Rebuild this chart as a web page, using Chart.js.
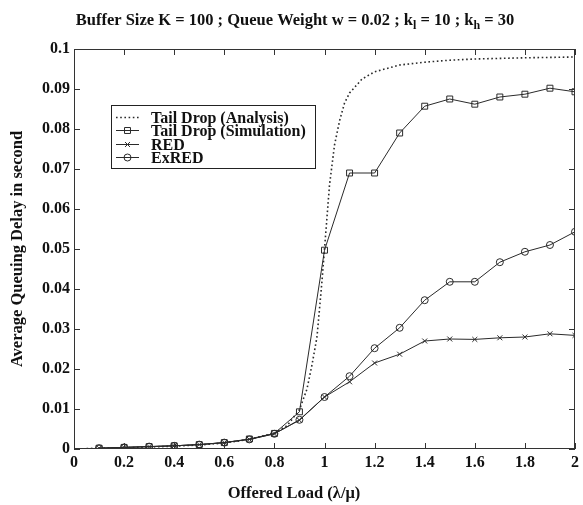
<!DOCTYPE html>
<html>
<head>
<meta charset="utf-8">
<script src="https://cdn.jsdelivr.net/npm/chart.js@4"></script>
<style>
  html, body { margin: 0; padding: 0; background: #fff; }
  #wrap { width: 583px; height: 505px; }
</style>
</head>
<body>
<div id="wrap"><canvas id="grafica" width="583" height="505"></canvas></div>
<script>
// datos
var cargaSim = [0.1, 0.2, 0.3, 0.4, 0.5, 0.6, 0.7, 0.8, 0.9, 1.0, 1.1, 1.2, 1.3, 1.4, 1.5, 1.6, 1.7, 1.8, 1.9, 2.0];
var tailDropSim = [0.0002, 0.0004, 0.0006, 0.0008, 0.0011, 0.0016, 0.0025, 0.0039, 0.0093, 0.0497, 0.069, 0.069, 0.079, 0.0857, 0.0875, 0.0862, 0.088, 0.0887, 0.0902, 0.0893];
var red = [0.0002, 0.0004, 0.0006, 0.0008, 0.0011, 0.0016, 0.0024, 0.0038, 0.0072, 0.013, 0.0168, 0.0215, 0.0237, 0.027, 0.0275, 0.0274, 0.0278, 0.028, 0.0288, 0.0284];
var exred = [0.0002, 0.0004, 0.0006, 0.0008, 0.0011, 0.0016, 0.0024, 0.0038, 0.0073, 0.013, 0.0182, 0.0252, 0.0303, 0.0372, 0.0418, 0.0418, 0.0467, 0.0493, 0.051, 0.0543];

var cargaAna = [0, 0.1, 0.2, 0.3, 0.4, 0.5, 0.6, 0.7, 0.8, 0.85, 0.9, 0.93, 0.95, 0.97, 0.99, 1.0, 1.02, 1.04, 1.06, 1.08, 1.1, 1.15, 1.2, 1.3, 1.4, 1.5, 1.6, 1.8, 2.0];
var tailDropAna = [0, 0.0002, 0.0003, 0.0005, 0.0007, 0.001, 0.0015, 0.0024, 0.004, 0.0058, 0.0098, 0.015, 0.021, 0.028, 0.042, 0.05, 0.066, 0.076, 0.082, 0.0865, 0.089, 0.0925, 0.0943, 0.096, 0.0967, 0.0972, 0.0975, 0.0978, 0.098];

var etiquetas = ['Tail Drop (Analysis)', 'Tail Drop (Simulation)', 'RED', 'ExRED'];
var tituloX = 'Offered Load (λ/μ)';

var colorLinea = '#2a2a2a';
var fuente = '"Liberation Serif", "DejaVu Serif", serif';

function puntos(xs, ys) {
    var out = [];
    for (var i = 0; i < xs.length; i++) out.push({ x: xs[i], y: ys[i] });
    return out;
}

// Marco con marcas hacia adentro (estilo MATLAB)
var marcoPlugin = {
    id: 'marco',
    afterDatasetsDraw: function (chart) {
        var ctx = chart.ctx, a = chart.chartArea;
        var sx = chart.scales.x, sy = chart.scales.y;
        var largo = 6;
        ctx.save();
        ctx.strokeStyle = '#333';
        ctx.lineWidth = 1;
        ctx.strokeRect(a.left + 0.5, a.top + 0.5, a.right - a.left - 1, a.bottom - a.top - 1);
        ctx.beginPath();
        sx.ticks.forEach(function (t) {
            var px = Math.round(sx.getPixelForValue(t.value)) + 0.5;
            ctx.moveTo(px, a.bottom); ctx.lineTo(px, a.bottom - largo);
            ctx.moveTo(px, a.top); ctx.lineTo(px, a.top + largo);
        });
        sy.ticks.forEach(function (t) {
            var py = Math.round(sy.getPixelForValue(t.value)) + 0.5;
            ctx.moveTo(a.left, py); ctx.lineTo(a.left + largo, py);
            ctx.moveTo(a.right, py); ctx.lineTo(a.right - largo, py);
        });
        ctx.stroke();
        ctx.restore();
    }
};

// Leyenda dentro del area del grafico
var leyendaPlugin = {
    id: 'leyendaInterna',
    afterDraw: function (chart) {
        var ctx = chart.ctx;
        var x0 = 111, y0 = 105, ancho = 204, alto = 63, paso = 13.3;
        ctx.save();
        ctx.fillStyle = '#fff';
        ctx.fillRect(x0, y0, ancho, alto);
        ctx.strokeStyle = '#222';
        ctx.lineWidth = 1;
        ctx.strokeRect(x0 + 0.5, y0 + 0.5, ancho, alto);
        ctx.font = 'bold 16px ' + fuente;
        ctx.textBaseline = 'middle';
        chart.data.datasets.forEach(function (ds, i) {
            var y = Math.round(y0 + 12 + i * paso) + 0.5;
            ctx.save();
            ctx.strokeStyle = colorLinea;
            ctx.fillStyle = 'rgba(0,0,0,0)';
            ctx.lineWidth = ds.borderWidth;
            ctx.setLineDash(ds.borderDash || []);
            ctx.beginPath();
            ctx.moveTo(x0 + 5, y);
            ctx.lineTo(x0 + 28, y);
            ctx.stroke();
            ctx.setLineDash([]);
            if (ds.pointRadius > 0) {
                ctx.lineWidth = 1;
                Chart.helpers.drawPoint(ctx, {
                    pointStyle: ds.pointStyle, radius: ds.pointRadius, rotation: 0, borderWidth: 1
                }, x0 + 16.5, y);
            }
            ctx.restore();
            ctx.fillStyle = '#111';
            ctx.fillText(etiquetas[i], x0 + 40, y + 1);
        });
        ctx.restore();
    }
};

// Titulo con subindices y titulo del eje x
var tituloPlugin = {
    id: 'tituloSub',
    afterDraw: function (chart) {
        var ctx = chart.ctx;
        var partes = [
            ['Buffer Size K = 100 ; Queue Weight w = 0.02 ; k', 0],
            ['l', 1],
            [' = 10 ; k', 0],
            ['h', 1],
            [' = 30', 0]
        ];
        var fNormal = 'bold 16.5px ' + fuente, fSub = 'bold 12px ' + fuente;
        ctx.save();
        var total = 0;
        partes.forEach(function (p) {
            ctx.font = p[1] ? fSub : fNormal;
            total += ctx.measureText(p[0]).width;
        });
        var x = 295 - total / 2, y = 25;
        ctx.fillStyle = '#111';
        ctx.textBaseline = 'alphabetic';
        partes.forEach(function (p) {
            ctx.font = p[1] ? fSub : fNormal;
            ctx.fillText(p[0], x, p[1] ? y + 4 : y);
            x += ctx.measureText(p[0]).width;
        });
        ctx.font = 'bold 16.5px ' + fuente;
        ctx.textAlign = 'center';
        ctx.textBaseline = 'middle';
        ctx.fillText(tituloX, 294, 494);
        ctx.restore();
    }
};

var ctx = document.getElementById('grafica').getContext('2d');
var grafica = new Chart(ctx, {
    type: 'line',
    data: {
        datasets: [{
            label: etiquetas[0],
            data: puntos(cargaAna, tailDropAna),
            borderColor: colorLinea,
            borderWidth: 1.6,
            borderDash: [1.6, 2.6],
            pointRadius: 0,
            pointStyle: 'circle',
            tension: 0
        }, {
            label: etiquetas[1],
            data: puntos(cargaSim, tailDropSim),
            borderColor: colorLinea,
            borderWidth: 1,
            pointStyle: 'rect',
            pointRadius: 4.2,
            pointBorderColor: colorLinea,
            pointBackgroundColor: 'rgba(0,0,0,0)',
            pointBorderWidth: 1,
            tension: 0
        }, {
            label: etiquetas[2],
            data: puntos(cargaSim, red),
            borderColor: colorLinea,
            borderWidth: 1,
            pointStyle: 'crossRot',
            pointRadius: 3.5,
            pointBorderColor: colorLinea,
            pointBorderWidth: 1,
            tension: 0
        }, {
            label: etiquetas[3],
            data: puntos(cargaSim, exred),
            borderColor: colorLinea,
            borderWidth: 1,
            pointStyle: 'circle',
            pointRadius: 3.5,
            pointBorderColor: colorLinea,
            pointBackgroundColor: 'rgba(0,0,0,0)',
            pointBorderWidth: 1,
            tension: 0
        }]
    },
    options: {
        responsive: false,
        animation: false,
        events: [],
        layout: { padding: { top: 49, right: 1, left: 0, bottom: 0 } },
        plugins: {
            legend: { display: false },
            title: { display: false },
            tooltip: { enabled: false }
        },
        scales: {
            x: {
                type: 'linear',
                min: 0, max: 2,
                afterFit: function (s) { s.height = 56; },
                grid: { display: false, drawTicks: false },
                border: { display: false },
                ticks: {
                    stepSize: 0.2,
                    autoSkip: false,
                    maxRotation: 0,
                    padding: 4,
                    color: '#111',
                    font: { family: fuente, size: 16, weight: 'bold' },
                    callback: function (v) { return String(+v.toFixed(2)); }
                }
            },
            y: {
                type: 'linear',
                min: 0, max: 0.1,
                afterFit: function (s) { s.width = 74; },
                grid: { display: false, drawTicks: false },
                border: { display: false },
                ticks: {
                    stepSize: 0.01,
                    autoSkip: false,
                    padding: 4,
                    color: '#111',
                    font: { family: fuente, size: 16, weight: 'bold' },
                    callback: function (v) { return String(+v.toFixed(3)); }
                },
                title: {
                    display: true,
                    text: 'Average Queuing Delay in second',
                    color: '#111',
                    font: { family: fuente, size: 16.5, weight: 'bold' },
                    padding: { top: 8, bottom: 0 }
                }
            }
        }
    },
    plugins: [marcoPlugin, leyendaPlugin, tituloPlugin]
});
</script>
</body>
</html>
